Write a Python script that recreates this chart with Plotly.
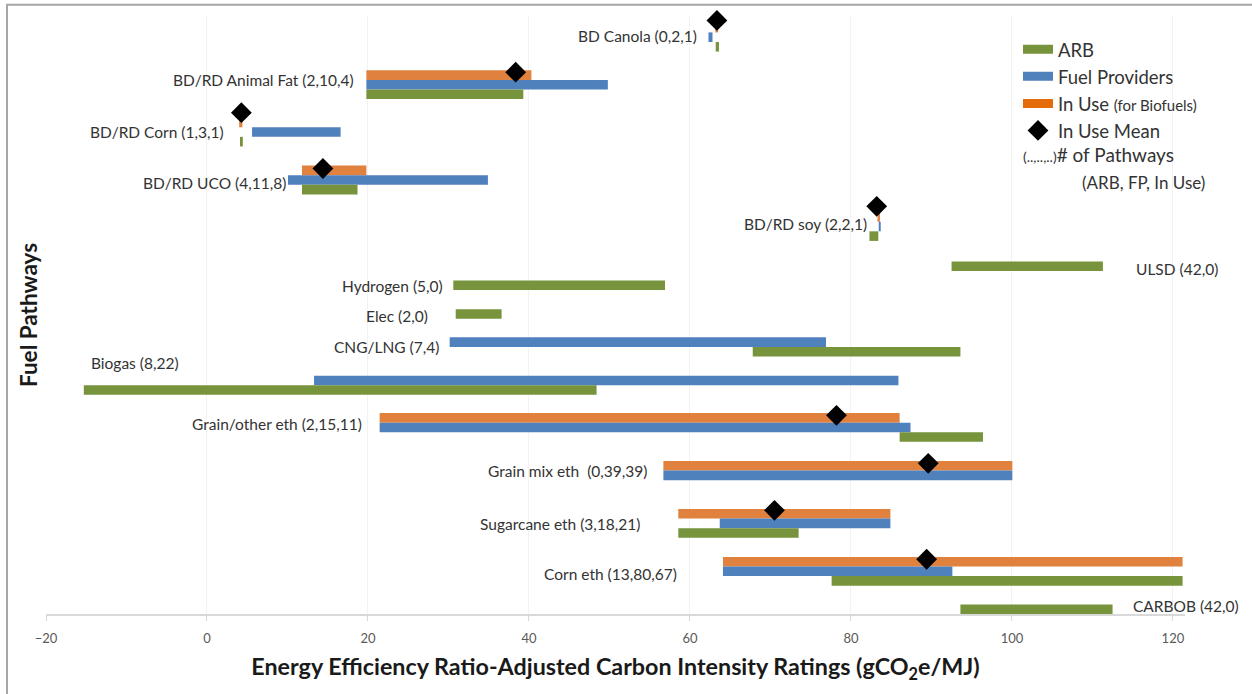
import plotly.graph_objects as go

# ---------------- data ----------------
categories = ["BD Canola", "BD/RD Animal Fat", "BD/RD Corn", "BD/RD UCO", "BD/RD soy",
              "ULSD", "Hydrogen", "Elec", "CNG/LNG", "Biogas",
              "Grain/other eth", "Grain mix eth ", "Sugarcane eth", "Corn eth", "CARBOB"]
counts = ["(0,2,1)", "(2,10,4)", "(1,3,1)", "(4,11,8)", "(2,2,1)",
          "(42,0)", "(5,0)", "(2,0)", "(7,4)", "(8,22)",
          "(2,15,11)", "(0,39,39)", "(3,18,21)", "(13,80,67)", "(42,0)"]

arb_low = [63.2, 19.8, 4.1, 11.8, 82.3, 92.5, 30.6, 30.9, 67.8, -15.3, 86.05, None, 58.55, 77.6, 93.6]
arb_high = [63.6, 39.3, 4.45, 18.7, 83.4, 111.3, 56.9, 36.6, 93.6, 48.4, 96.4, None, 73.5, 121.2, 112.5]

fp_low = [62.3, 19.8, 5.6, 10.06, 83.45, None, None, None, 30.15, 13.3, 21.45, 56.7, 63.7, 64.1, None]
fp_high = [62.8, 49.8, 16.6, 34.9, 83.7, None, None, None, 76.9, 85.9, 87.4, 100.05, 84.9, 92.6, None]

inuse_low = [63.15, 19.8, 4.0, 11.8, 83.3, None, None, None, None, None, 21.45, 56.7, 58.55, 64.1, None]
inuse_high = [63.5, 40.3, 4.4, 19.8, 83.6, None, None, None, None, None, 86.05, 100.05, 84.9, 121.2, None]

inuse_mean = [63.35, 38.35, 4.27, 14.4, 83.2, None, None, None, None, None, 78.2, 89.6, 70.5, 89.4, None]

x_ticks = [-20, 0, 20, 40, 60, 80, 100, 120]

# ---------------- layout helpers (positions, not data) ----------------
row_pos = [1.61, 6.56, 11.5, 16.5, 21.35, 24.5, 26.47, 29.47, 33.4, 37.4, 42.3, 47.3, 52.3, 57.3, 60.25]
mean_pos = [-0.14, 5.26, 9.48, 15.3, 19.24, None, None, None, None, None, 41.04, 46.04, 50.94, 56.04, None]
label_x = [61.1, 18.5, 2.3, 10.1, 82.3, 115.2, 29.6, 27.7, 29.1, -14.65, 19.5, 54.9, 54.1, 58.6, 114.8]
label_y = [1.46, 6.04, 11.53, 16.77, 21.1, 25.8, 27.5, 30.7, 33.96, 35.55, 41.98, 46.84, 52.4, 57.6, 60.9]
label_anchor = ["right", "right", "right", "right", "right", "left", "right", "right", "right", "left",
                "right", "right", "right", "right", "left"]

GREEN = "#77933C"
BLUE = "#4F81BD"
ORANGE = "#E0813D"
ORANGE_LEG = "#E46C0A"
TXT = "#333333"
FONT = "Lato"

# plot area geometry (pixels): bottom of axis at 614, 1 row unit ~ 9.587 px
Y_TOP = -0.6
Y_BOT = 61.75
UNIT_PX = 592 / 61.75
TOP_MARGIN = 22 + Y_TOP * UNIT_PX
PLOT_H = 694 - 80 - TOP_MARGIN


def py(pixel_y):
    """pixel row (from top of page) -> paper y"""
    return (614 - pixel_y) / PLOT_H


fig = go.Figure()


def add_range_bars(lows, highs, offset, color):
    ys, bases, lens = [], [], []
    for i, (lo, hi) in enumerate(zip(lows, highs)):
        if lo is None or hi is None:
            continue
        ys.append(row_pos[i] + offset)
        bases.append(lo)
        lens.append(hi - lo)
    fig.add_trace(go.Bar(orientation="h", y=ys, x=lens, base=bases, width=1.0,
                         marker=dict(color=color, line=dict(width=0)),
                         showlegend=False, hoverinfo="skip"))


add_range_bars(inuse_low, inuse_high, -1.0, ORANGE)
add_range_bars(fp_low, fp_high, 0.0, BLUE)
add_range_bars(arb_low, arb_high, 1.0, GREEN)

mx = [m for m in inuse_mean if m is not None]
my = [p for m, p in zip(inuse_mean, mean_pos) if m is not None]
fig.add_trace(go.Scatter(x=mx, y=my, mode="markers", cliponaxis=False,
                         marker=dict(symbol="diamond", size=16, color="black"),
                         showlegend=False, hoverinfo="skip"))

# legend proxies
fig.add_trace(go.Scatter(x=[None], y=[None], mode="lines", name="ARB", legendgroup="a",
                         line=dict(color=GREEN, width=9)))
fig.add_trace(go.Scatter(x=[None], y=[None], mode="lines", name="Fuel Providers", legendgroup="b",
                         line=dict(color=BLUE, width=9)))
fig.add_trace(go.Scatter(x=[None], y=[None], mode="lines", legendgroup="c",
                         name="In Use <span style='font-size:15px'>(for Biofuels)</span>",
                         line=dict(color=ORANGE_LEG, width=9)))
fig.add_trace(go.Scatter(x=[None], y=[None], mode="markers", name="In Use Mean", legendgroup="d",
                         marker=dict(symbol="diamond", size=16, color="black")))

# category labels
for i, cat in enumerate(categories):
    fig.add_annotation(x=label_x[i], y=label_y[i], xref="x", yref="y",
                       text=f"{cat} {counts[i]}", showarrow=False,
                       xanchor=label_anchor[i], yanchor="middle",
                       font=dict(family=FONT, size=15.5, color=TXT))

# legend extra notes
fig.add_annotation(x=(1021 - 46) / 1139, y=py(155), xref="paper", yref="paper",
                   text="<span style='font-size:14px'>(..,..,..)</span># of Pathways",
                   showarrow=False, xanchor="left", yanchor="middle",
                   font=dict(family=FONT, size=19, color=TXT))
fig.add_annotation(x=(1080 - 46) / 1139, y=py(183), xref="paper", yref="paper",
                   text="(ARB, FP, In Use)", showarrow=False, xanchor="left", yanchor="middle",
                   font=dict(family=FONT, size=17, color=TXT))

# outer frame
fig.add_shape(type="rect", xref="paper", yref="paper",
              x0=(7 - 46) / 1139, x1=(1262 - 46) / 1139,
              y0=py(704), y1=py(5),
              line=dict(color="#a6a6a6", width=2), fillcolor="rgba(0,0,0,0)", layer="below")

fig.update_layout(
    width=1252, height=694,
    margin=dict(l=46, r=67, t=TOP_MARGIN, b=80, autoexpand=False),
    paper_bgcolor="white", plot_bgcolor="white",
    barmode="overlay",
    font=dict(family=FONT, color=TXT),
    showlegend=True,
    legend=dict(x=(1018 - 46) / 1139, y=py(31), xanchor="left", yanchor="top",
                bgcolor="rgba(0,0,0,0)", borderwidth=0, tracegroupgap=0,
                font=dict(family=FONT, size=18.5, color=TXT)),
    xaxis=dict(range=[-20, 121.5], tickvals=x_ticks, showgrid=True, gridcolor="#f2f2f2",
               zeroline=False, showline=True, linecolor="#d9d9d9", linewidth=2,
               ticks="outside", ticklen=5, tickcolor="#d9d9d9", automargin=False,
               ticklabelstandoff=6,
               tickfont=dict(family=FONT, size=13, color="#595959"),
               title=dict(text="<b>Energy Efficiency Ratio-Adjusted Carbon Intensity Ratings (gCO<sub>2</sub>e/MJ)</b>",
                          font=dict(family=FONT, size=23.3, color="#1a1a1a"), standoff=14)),
    yaxis=dict(range=[Y_BOT, Y_TOP], showgrid=False, zeroline=False, showticklabels=False,
               showline=False, ticks="", automargin=False,
               title=dict(text="<b>Fuel Pathways</b>", font=dict(family=FONT, size=22.5, color="#1a1a1a"),
                          standoff=1)),
)

fig.write_html("out.html", config={"displayModeBar": False},
               post_script="document.body.style.margin='0px';")
